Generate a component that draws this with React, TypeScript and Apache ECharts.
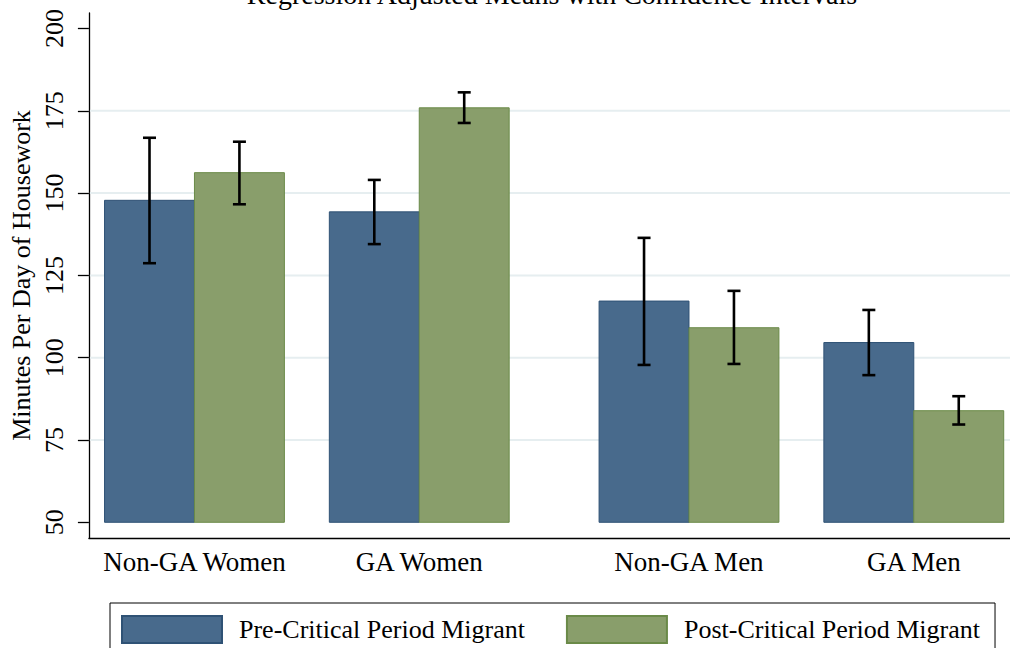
import React, { useEffect, useRef } from "react";
import * as echarts from "echarts";

const groups = ["Non-GA Women", "GA Women", "Non-GA Men", "GA Men"];
const seriesNames = ["Pre-Critical Period Migrant", "Post-Critical Period Migrant"];
const preMean = [147.8, 144.3, 117.2, 104.6];
const preLow = [128.7, 134.5, 97.8, 94.7];
const preHigh = [166.8, 154.0, 136.4, 114.5];
const postMean = [156.2, 175.9, 109.1, 83.9];
const postLow = [146.6, 171.3, 98.1, 79.7];
const postHigh = [165.6, 180.6, 120.3, 88.3];
const yTicks = [50, 75, 100, 125, 150, 175, 200];
const gridValues = [75, 100, 125, 150, 175];
const titleText = "Regression Adjusted Means with Confidence Intervals";
const yTitle = "Minutes Per Day of Housework";

const FONT = "'Liberation Serif', 'Times New Roman', serif";
const BLUE = "#486a8c";
const BLUE_EDGE = "#2f5275";
const GREEN = "#899e6b";
const GREEN_EDGE = "#6a8a48";
const Y_MIN = 45.23;
const Y_MAX = 204.7;
const BASE = 50;
const X_MIN = -0.174;
const X_MAX = 10.07;

// layout: bar width = 1 unit; gap 0.5 within gender, 1.0 between genders
const groupStart = (i: number) => i * 2.5 + (i >= 2 ? 0.5 : 0);
const groupCenter = (i: number) => groupStart(i) + 1;

export default function App() {
  const ref = useRef<HTMLDivElement>(null);
  useEffect(() => {
    if (!ref.current) return;
    const chart = echarts.init(ref.current, undefined, { renderer: "svg" });
    const means = [preMean, postMean];
    const lows = [preLow, postLow];
    const highs = [preHigh, postHigh];
    const fills = [BLUE, GREEN];
    const edges = [BLUE_EDGE, GREEN_EDGE];
    const centers = groups.map((_, i) => groupCenter(i));

    const barSeries = [0, 1].map((s) => ({
      type: "custom",
      name: seriesNames[s],
      z: 3,
      itemStyle: { color: fills[s], borderColor: edges[s], borderWidth: 1 },
      data: groups.map((_, i) => [groupStart(i) + s, means[s][i]]),
      renderItem: (params: any, api: any) => {
        const x0 = api.value(0);
        const v = api.value(1);
        const pTop = api.coord([x0, v]);
        const pBot = api.coord([x0 + 1, BASE]);
        return {
          type: "rect",
          shape: { x: pTop[0], y: pTop[1], width: pBot[0] - pTop[0], height: pBot[1] - pTop[1] },
          style: { fill: fills[s], stroke: edges[s], lineWidth: 1 },
        };
      },
    }));

    const errSeries = [0, 1].map((s) => ({
      type: "custom",
      name: "ci" + s,
      z: 4,
      data: groups.map((_, i) => [groupStart(i) + s + 0.5, lows[s][i], highs[s][i]]),
      renderItem: (params: any, api: any) => {
        const xc = api.value(0);
        const lo = api.coord([xc, api.value(1)]);
        const hi = api.coord([xc, api.value(2)]);
        const cap = 6.5;
        const st = { stroke: "#000", lineWidth: 2.6 };
        return {
          type: "group",
          children: [
            { type: "line", shape: { x1: lo[0], y1: lo[1], x2: hi[0], y2: hi[1] }, style: st },
            { type: "line", shape: { x1: lo[0] - cap, y1: lo[1], x2: lo[0] + cap, y2: lo[1] }, style: st },
            { type: "line", shape: { x1: hi[0] - cap, y1: hi[1], x2: hi[0] + cap, y2: hi[1] }, style: st },
          ],
        };
      },
    }));

    const gridSeries = {
      type: "custom",
      name: "grid",
      z: 1,
      silent: true,
      data: gridValues.map((v) => [0, v]),
      renderItem: (params: any, api: any) => {
        const y = api.coord([0, api.value(1)])[1];
        const cs = params.coordSys;
        return {
          type: "line",
          shape: { x1: cs.x + 1, y1: y, x2: cs.x + cs.width, y2: y },
          style: { stroke: "#e6eef0", lineWidth: 2 },
        };
      },
    };

    chart.setOption({
      animation: false,
      backgroundColor: "#ffffff",
      textStyle: { fontFamily: FONT },
      grid: { left: 86, right: 0, top: 13, bottom: 110, containLabel: false },
      graphic: [
        {
          type: "text",
          x: 552,
          y: 8,
          style: {
            text: titleText,
            fontFamily: FONT,
            fontSize: 28,
            fill: "#000",
            textAlign: "center",
            textVerticalAlign: "bottom",
          },
        },
      ],
      legend: {
        data: seriesNames,
        left: 110,
        top: 603,
        orient: "horizontal",
        padding: [12, 15, 12, 11],
        itemWidth: 100,
        itemHeight: 27,
        itemGap: 41,
        icon: "rect",
        borderColor: "#000",
        borderWidth: 1,
        selectedMode: false,
        textStyle: {
          fontFamily: FONT,
          fontSize: 26,
          color: "#000",
          padding: [0, 0, 0, 12],
        },
      },
      xAxis: {
        type: "value",
        min: X_MIN,
        max: X_MAX,
        axisLine: { show: true, onZero: false, lineStyle: { color: "#000", width: 1.3 } },
        axisTick: { show: false },
        splitLine: { show: false },
        axisLabel: {
          customValues: centers,
          margin: 10,
          fontFamily: FONT,
          fontSize: 27,
          color: "#000",
          formatter: (v: number) => {
            const idx = centers.findIndex((c) => Math.abs(c - v) < 1e-6);
            return idx >= 0 ? groups[idx] : "";
          },
        },
      },
      yAxis: {
        type: "value",
        min: Y_MIN,
        max: Y_MAX,
        name: yTitle,
        nameLocation: "middle",
        nameGap: 53,
        nameTextStyle: { fontFamily: FONT, fontSize: 26, color: "#000" },
        axisLine: { show: true, onZero: false, lineStyle: { color: "#000", width: 1.3 } },
        axisTick: { show: true, customValues: yTicks, length: 11, lineStyle: { color: "#000", width: 1.3 } },
        splitLine: { show: false },
        axisLabel: {
          customValues: yTicks,
          rotate: 90,
          margin: 21,
          fontFamily: FONT,
          fontSize: 26,
          color: "#000",
        },
      },
      series: [gridSeries, ...barSeries, ...errSeries],
    });
    return () => chart.dispose();
  }, []);
  return (
    <div
      ref={ref}
      style={{ position: "fixed", left: 0, top: 0, width: 1010, height: 648, background: "#fff" }}
    />
  );
}
